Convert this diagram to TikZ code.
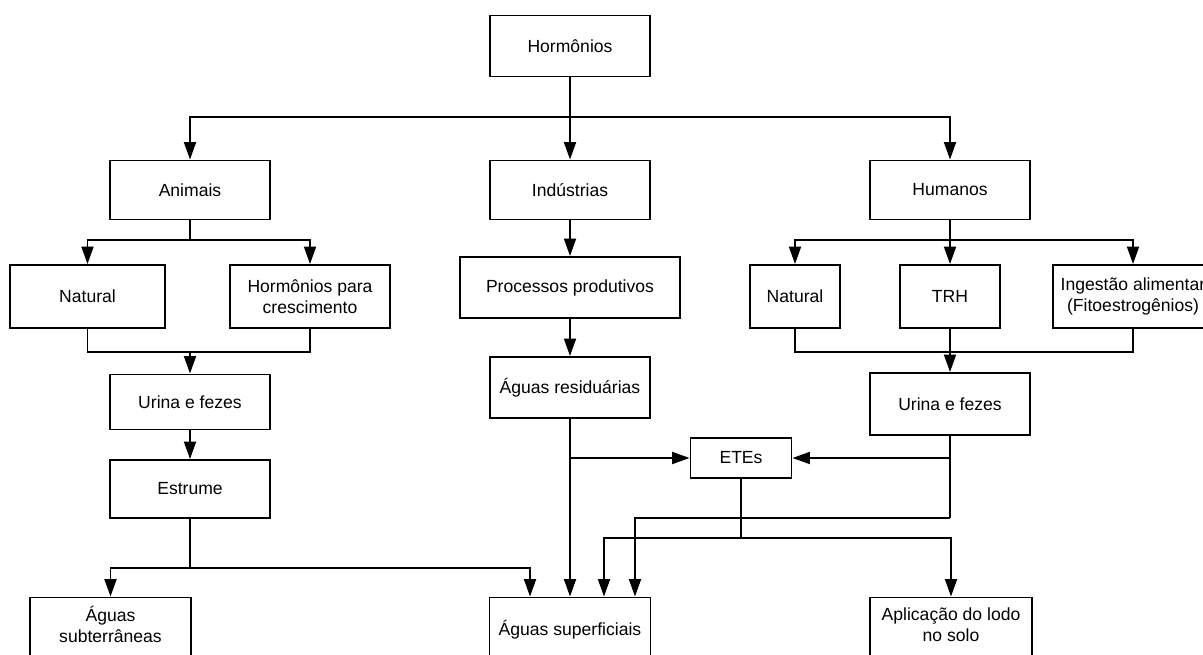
\documentclass[tikz,border=0pt]{standalone}
\usepackage{fontspec}
\setmainfont{Liberation Sans}
\usetikzlibrary{positioning, arrows.meta}
\tikzset{
    box/.style = {draw, line width=1.1pt, align=center, inner sep=2pt},
}
\tikzset{
    link/.style = {draw, line width=1.1pt},
    flow/.style = {link, -{Triangle[length=3.5mm, width=2.4mm]}},
}

\begin{document}
\begin{tikzpicture}[x=0.02cm, y=-0.02cm]
        \useasboundingbox (0, 0) rectangle (1203, 655);

        \node[box, minimum width=3.2cm, minimum height=1.22cm] (horm) at (570, 46) {Hormônios};
        \node[box, minimum width=3.2cm, minimum height=1.18cm] (animais) at (190, 190) {Animais};
        \node[box, minimum width=3.2cm, minimum height=1.18cm] (ind) at (570, 190) {Indústrias};
        \node[box, minimum width=3.2cm, minimum height=1.18cm] (hum) at (950, 190) {Humanos};

        \node[box, minimum width=3.1cm, minimum height=1.26cm] (natA) at (87.5, 296.5) {Natural};
        \node[box, minimum width=3.2cm, minimum height=1.26cm] (hpc) at (310, 296.5) {Hormônios para\\crescimento};
        \node[box, minimum width=4.4cm, minimum height=1.22cm] (proc) at (570, 287.5) {Processos produtivos};
        \node[box, minimum width=1.8cm, minimum height=1.26cm] (natH) at (795, 296.5) {Natural};
        \node[box, minimum width=2cm, minimum height=1.26cm] (trh) at (950, 296.5) {TRH};
        \node[box, minimum width=3.2cm, minimum height=1.26cm] (ing) at (1133, 296.5) {Ingestão alimentar\\(Fitoestrogênios)};

        \node[box, minimum width=3.2cm, minimum height=1.1cm] (ureA) at (190, 402) {Urina e fezes};
        \node[box, minimum width=3.2cm, minimum height=1.22cm] (resid) at (570, 387.5) {Águas residuárias};
        \node[box, minimum width=3.2cm, minimum height=1.24cm] (ureH) at (950, 404) {Urina e fezes};
        \node[box, minimum width=2.02cm, minimum height=0.8cm] (etes) at (741, 458) {ETEs};
        \node[box, minimum width=3.2cm, minimum height=1.16cm] (estr) at (190, 489) {Estrume};

        \node[box, minimum width=3.22cm, minimum height=1.3cm, text depth=6.6pt] (sub) at (110.5, 630) {Águas\\subterrâneas};
        \node[box, minimum width=3.22cm, minimum height=1.3cm] (sup) at (570, 630) {Águas superficiais};
        \node[box, minimum width=3.24cm, minimum height=1.3cm, text depth=6.6pt] (apl) at (951, 630) {Aplicação do lodo\\no solo};

        % junctions
        \coordinate (hj) at (570, 117);
        \coordinate (aj) at (190, 240);
        \coordinate (am) at (190, 352);
        \coordinate (hj2) at (950, 240);
        \coordinate (hm) at (950, 352);
        \coordinate (ej) at (190, 568);
        \coordinate (uj) at (950, 518);
        \coordinate (tj) at (741, 538);

        \draw[link] (horm) -- (hj);
        \draw[flow] (hj) -| (animais);
        \draw[flow] (hj) -- (ind);
        \draw[flow] (hj) -| (hum);

        \draw[link] (animais) -- (aj);
        \draw[flow] (aj) -| (natA);
        \draw[flow] (aj) -| (hpc);
        \draw[link] (natA) |- (am) -| (hpc);
        \draw[flow] (am) -- (ureA);
        \draw[flow] (ureA) -- (estr);
        \draw[link] (estr) -- (ej);
        \draw[flow] (ej) -| (sub);
        \draw[flow] (ej) -| ([xshift=-0.8cm]sup.north);

        \draw[flow] (ind) -- (proc);
        \draw[flow] (proc) -- (resid);
        \draw[flow] (resid) -- (sup);
        \draw[flow] (resid.south |- etes) -- (etes);

        \draw[link] (hum) -- (hj2);
        \draw[flow] (hj2) -| (natH);
        \draw[flow] (hj2) -- (trh);
        \draw[flow] (hj2) -| (ing);
        \draw[link] (natH) |- (hm) -| (ing);
        \draw[flow] (trh) -- (ureH);
        \draw[link] (ureH) -- (uj);
        \draw[flow] (ureH.south |- etes) -- (etes);
        \draw[flow] (uj) -| ([xshift=1.3cm]sup.north);

        \draw[link] (etes) -- (tj);
        \draw[flow] (tj) -| ([xshift=0.68cm]sup.north);
        \draw[flow] (tj) -| (apl);
    \end{tikzpicture}
\end{document}
